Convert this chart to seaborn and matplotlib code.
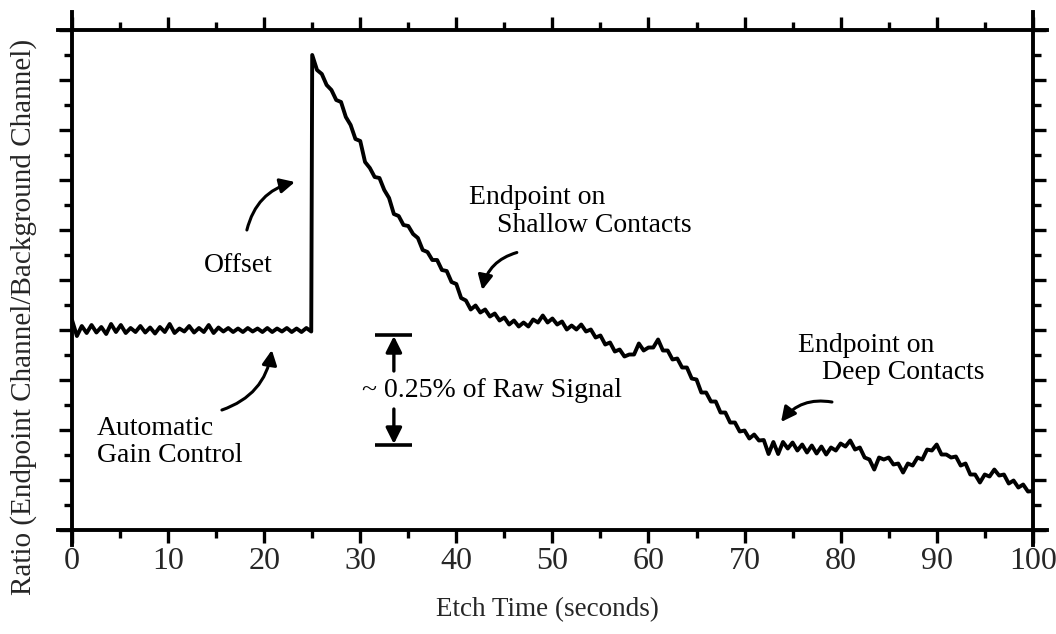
import numpy as np
import pandas as pd
import matplotlib
matplotlib.use("Agg")
import matplotlib.pyplot as plt
from matplotlib.ticker import MultipleLocator, NullFormatter
import seaborn as sns

# ---- data (ratio signal in arbitrary units, sampled every 0.5 s) ----
baseline = [4.20, 3.88, 4.08, 3.94, 4.10, 3.95, 4.06, 3.92, 4.12, 3.96,
            4.10, 3.94, 4.04, 3.96, 4.08, 3.95, 4.05, 3.93, 4.06, 3.96,
            4.12, 3.94, 4.03, 3.97, 4.08, 3.95, 4.04, 3.96, 4.10, 3.94,
            4.05, 3.97, 4.04, 3.96, 4.03, 3.96, 4.04, 3.97, 4.03, 3.96,
            4.04, 3.96, 4.03, 3.97, 4.04, 3.96, 4.03, 3.96, 4.04, 3.97]
etch = [9.50, 9.20, 9.12, 8.90, 8.80, 8.60, 8.56, 8.26, 8.10, 7.82,
        7.78, 7.36, 7.24, 7.06, 7.04, 6.80, 6.64, 6.32, 6.28, 6.10,
        6.08, 5.92, 5.84, 5.60, 5.56, 5.40, 5.40, 5.20, 5.18, 4.96,
        4.92, 4.64, 4.59, 4.41, 4.49, 4.35, 4.41, 4.27, 4.33, 4.19,
        4.25, 4.11, 4.19, 4.07, 4.15, 4.07, 4.21, 4.15, 4.29, 4.15,
        4.23, 4.11, 4.17, 4.01, 4.09, 4.01, 4.11, 3.97, 4.01, 3.85,
        3.89, 3.71, 3.75, 3.57, 3.61, 3.47, 3.51, 3.51, 3.73, 3.59,
        3.65, 3.65, 3.81, 3.59, 3.59, 3.41, 3.43, 3.25, 3.25, 3.03,
        3.01, 2.75, 2.75, 2.57, 2.57, 2.35, 2.35, 2.15, 2.15, 1.97,
        1.99, 1.83, 1.91, 1.79, 1.80, 1.52, 1.76, 1.52, 1.76, 1.63,
        1.75, 1.59, 1.71, 1.55, 1.69, 1.53, 1.67, 1.51, 1.65, 1.59,
        1.73, 1.67, 1.79, 1.61, 1.65, 1.45, 1.41, 1.21, 1.45, 1.41,
        1.45, 1.31, 1.33, 1.15, 1.33, 1.29, 1.45, 1.41, 1.61, 1.59,
        1.71, 1.51, 1.51, 1.45, 1.47, 1.29, 1.33, 1.11, 1.11, 0.95,
        1.11, 1.07, 1.21, 1.09, 1.11, 0.93, 0.99, 0.85, 0.91, 0.77,
        0.78]
baseline_time = np.linspace(0, 24.9, len(baseline))
etch_time = np.linspace(25, 100, len(etch))
ratio = baseline + etch
time_s = np.concatenate([baseline_time, etch_time])
x_ticks = [0, 10, 20, 30, 40, 50, 60, 70, 80, 90, 100]

df = pd.DataFrame({"Etch Time (seconds)": time_s, "Ratio": ratio})

# ---- style ----
sns.set_style("ticks")
plt.rcParams["font.family"] = ["Liberation Serif", "DejaVu Serif"]
plt.rcParams["text.color"] = "black"

fig = plt.figure(figsize=(10.56, 6.34), dpi=100)
ax = fig.add_axes([0.0682, 0.164, 0.9098, 0.7887])

sns.lineplot(data=df, x="Etch Time (seconds)", y="Ratio", ax=ax,
             color="black", linewidth=2.8, estimator=None, sort=False)

ax.set_xlim(0, 100)
ax.set_ylim(0, 10)
ax.set_xticks(x_ticks)
ax.set_xticklabels([str(v) for v in x_ticks])
ax.xaxis.set_minor_locator(MultipleLocator(5))
ax.yaxis.set_major_locator(MultipleLocator(1))
ax.yaxis.set_minor_locator(MultipleLocator(0.5))
ax.yaxis.set_major_formatter(NullFormatter())

for s in ["left", "right", "top", "bottom"]:
    ax.spines[s].set_visible(True)
    ax.spines[s].set_linewidth(2.8)
    ax.spines[s].set_color("black")
ax.spines["left"].set_bounds(-0.3, 10.36)
ax.spines["right"].set_bounds(-0.3, 10.36)
ax.spines["top"].set_bounds(-1.5, 101.5)
ax.spines["bottom"].set_bounds(-1.5, 101.5)

ax.tick_params(which="both", direction="out", top=True, right=True,
               left=True, bottom=True, color="black", width=2.4,
               labeltop=False, labelright=False, labelleft=False)
ax.tick_params(which="major", length=9.5)
ax.tick_params(which="minor", length=5.5)
ax.tick_params(axis="x", which="major", labelsize=23, pad=3)

ax.set_xlabel("Etch Time (seconds)", fontsize=19.5)
ax.set_ylabel("Ratio (Endpoint Channel/Background Channel)", fontsize=21)
ax.xaxis.set_label_coords(0.495, -0.134)
ax.yaxis.set_label_coords(-0.036, 0.426)

# ---- annotations ----
fs = 20
arrow_kw = dict(arrowstyle="-|>", color="black", lw=2.2, mutation_scale=22,
                shrinkA=0, shrinkB=0)

ax.text(17.3, 5.3, "Offset", fontsize=fs, ha="center", va="center")
ax.annotate("", xy=(23.2, 6.96), xytext=(18.2, 6.0),
            arrowprops=dict(connectionstyle="arc3,rad=-0.3", **arrow_kw))

ax.text(48.4, 6.66, "Endpoint on", fontsize=fs, ha="center", va="center")
ax.text(54.4, 6.10, "Shallow Contacts", fontsize=fs, ha="center", va="center")
ax.annotate("", xy=(42.7, 4.8), xytext=(46.3, 5.55),
            arrowprops=dict(connectionstyle="arc3,rad=0.3", **arrow_kw))

ax.text(82.7, 3.70, "Endpoint on", fontsize=fs, ha="center", va="center")
ax.text(86.5, 3.16, "Deep Contacts", fontsize=fs, ha="center", va="center")
ax.annotate("", xy=(73.8, 2.16), xytext=(79.1, 2.56),
            arrowprops=dict(connectionstyle="arc3,rad=0.3", **arrow_kw))

ax.text(2.6, 2.04, "Automatic", fontsize=fs, ha="left", va="center")
ax.text(2.6, 1.50, "Gain Control", fontsize=fs, ha="left", va="center")
ax.annotate("", xy=(20.8, 3.6), xytext=(15.6, 2.4),
            arrowprops=dict(connectionstyle="arc3,rad=0.3", **arrow_kw))

# dimension marker
ax.hlines([3.9, 1.7], 31.5, 35.4, colors="black", linewidth=2.6)
ax.annotate("", xy=(33.5, 3.88), xytext=(33.5, 3.18),
            arrowprops=dict(arrowstyle="-|>", color="black", lw=2.4,
                            mutation_scale=24, shrinkA=0, shrinkB=0))
ax.annotate("", xy=(33.5, 1.72), xytext=(33.5, 2.42),
            arrowprops=dict(arrowstyle="-|>", color="black", lw=2.4,
                            mutation_scale=24, shrinkA=0, shrinkB=0))
ax.text(30.2, 2.8, "~ 0.25% of Raw Signal", fontsize=fs, ha="left",
        va="center")

fig.savefig("out.png", dpi=100)
